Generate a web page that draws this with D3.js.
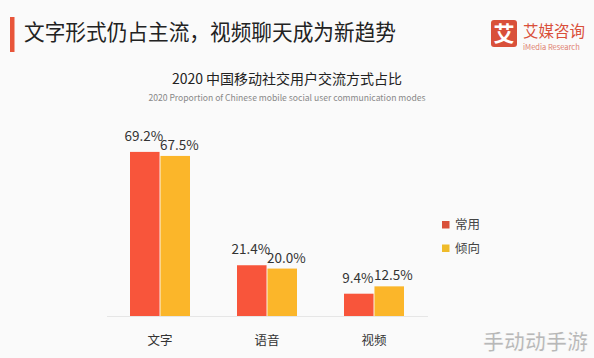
<!DOCTYPE html>
<html>
<head>
<meta charset="utf-8">
<script src="https://cdn.jsdelivr.net/npm/d3@7"></script>
<style>
  body { margin: 0; background: #fafafa; }
  svg { display: block; font-family: "Noto Sans CJK SC", "Noto Sans", sans-serif; }
</style>
</head>
<body>
<div id="plot"></div>
<script>
const WIDTH = 594;
const HEIGHT = 358;

const categories = ["文字", "语音", "视频"];
const seriesNames = ["常用", "倾向"];
const changyong = [69.2, 21.4, 9.4];
const qingxiang = [67.5, 20.0, 12.5];
const colors = ["#f8553b", "#fbb62a"];

const svg = d3.select("#plot")
  .append("svg")
    .attr("width", WIDTH)
    .attr("height", HEIGHT);

svg.append("rect")
  .attr("width", WIDTH).attr("height", HEIGHT)
  .attr("fill", "#fafafa");

// page header
svg.append("rect")
  .attr("x", 10).attr("y", 17).attr("width", 4.5).attr("height", 35)
  .attr("fill", "#e8553a");
svg.append("text")
  .attr("x", 24).attr("y", 40)
  .attr("font-size", "21.5px")
  .attr("textLength", 372)
  .attr("lengthAdjust", "spacingAndGlyphs")
  .attr("fill", "#222")
  .text("文字形式仍占主流，视频聊天成为新趋势");

// logo
svg.append("rect")
  .attr("x", 491).attr("y", 20).attr("width", 26).attr("height", 27).attr("rx", 3)
  .attr("fill", "#d9503a");
svg.append("text")
  .attr("x", 504).attr("y", 41).attr("text-anchor", "middle")
  .attr("font-size", "21px").attr("font-weight", "bold")
  .attr("fill", "#fff")
  .text("艾");
svg.append("text")
  .attr("x", 523).attr("y", 37)
  .attr("font-size", "15.5px")
  .attr("fill", "#d9503a")
  .text("艾媒咨询");
svg.append("text")
  .attr("x", 523).attr("y", 50)
  .attr("font-size", "7.5px")
  .attr("fill", "#e08070")
  .text("iMedia Research");

// chart titles
svg.append("text")
  .attr("x", 287).attr("y", 84).attr("text-anchor", "middle")
  .attr("font-size", "14px")
  .attr("fill", "#222")
  .text("2020 中国移动社交用户交流方式占比");
svg.append("text")
  .attr("x", 287).attr("y", 101).attr("text-anchor", "middle")
  .attr("font-size", "8.6px")
  .attr("fill", "#888")
  .text("2020 Proportion of Chinese mobile social user communication modes");

// scales
const X = d3.scalePoint().domain(categories).range([160, 374]);
const SUB = d3.scaleBand().domain(seriesNames).range([-30, 30]).paddingInner(0.03);
const Y = d3.scaleLinear().domain([0, 70]).range([316, 150]);

const rows = categories.map((c, i) => ({cat: c, vals: [changyong[i], qingxiang[i]]}));

// baseline
svg.append("line")
  .attr("x1", 107).attr("x2", 428)
  .attr("y1", Y(0) + 0.5).attr("y2", Y(0) + 0.5)
  .attr("stroke", "#e6e6e6");

const groups = svg.selectAll(".grp")
  .data(rows)
  .enter()
  .append("g")
    .attr("class", "grp")
    .attr("transform", d => "translate(" + X(d.cat) + ",0)");

groups.selectAll("rect")
  .data(d => d.vals.map((v, j) => ({key: seriesNames[j], v: v, j: j})))
  .enter()
  .append("rect")
    .attr("x", d => SUB(d.key))
    .attr("y", d => Y(d.v))
    .attr("width", SUB.bandwidth())
    .attr("height", d => Y(0) - Y(d.v))
    .attr("fill", d => colors[d.j]);

groups.selectAll(".val")
  .data(d => d.vals.map((v, j) => ({key: seriesNames[j], v: v, j: j})))
  .enter()
  .append("text")
    .attr("class", "val")
    .attr("x", d => SUB(d.key) + SUB.bandwidth() / 2 + (d.j === 0 ? -1 : 4))
    .attr("y", d => Y(d.v) - (d.j === 0 ? 11 : 6))
    .attr("text-anchor", "middle")
    .attr("font-size", "13.5px")
    .attr("fill", "#333")
    .text(d => d.v.toFixed(1) + "%");

// category labels
svg.selectAll(".cat")
  .data(categories)
  .enter()
  .append("text")
    .attr("class", "cat")
    .attr("x", d => X(d))
    .attr("y", 345)
    .attr("text-anchor", "middle")
    .attr("font-size", "12.5px")
    .attr("fill", "#333")
    .text(d => d);

// legend
const legend = svg.selectAll(".leg")
  .data(seriesNames)
  .enter()
  .append("g")
    .attr("class", "leg")
    .attr("transform", (d, i) => "translate(442," + (221 + i * 23.5) + ")");
legend.append("rect")
  .attr("width", 7.5).attr("height", 7.5)
  .attr("fill", (d, i) => i === 0 ? "#d9503a" : "#efbb2a");
legend.append("text")
  .attr("x", 13).attr("y", 8)
  .attr("font-size", "12.5px")
  .attr("fill", "#444")
  .text(d => d);

// watermark
svg.append("text")
  .attr("x", 588).attr("y", 349).attr("text-anchor", "end")
  .attr("font-size", "21px").attr("font-weight", "bold")
  .attr("fill", "#b8b8b8")
  .attr("stroke", "#ffffff").attr("stroke-width", 0.6)
  .text("手动动手游");
</script>
</body>
</html>
